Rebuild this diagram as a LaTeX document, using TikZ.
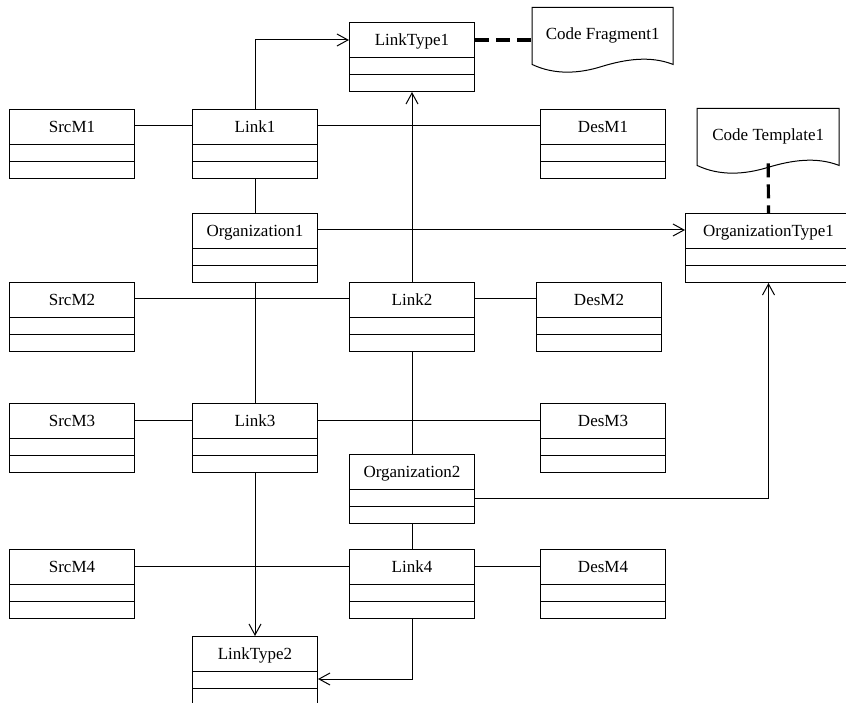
\documentclass[tikz,border=0pt]{standalone}
\usepackage{fontspec}
\setmainfont{Liberation Serif}
\usetikzlibrary{arrows.meta}

\tikzset{
  classbox/.style={draw, line width=1pt, anchor=north west, minimum width=125pt,
    inner ysep=0pt, text height=23pt, text depth=46pt, font=\fontsize{17}{20}\selectfont,
    path picture={
      \draw[line width=1pt] ([yshift=-35pt]path picture bounding box.north west) -- ([yshift=-35pt]path picture bounding box.north east);
      \draw[line width=1pt] ([yshift=-52pt]path picture bounding box.north west) -- ([yshift=-52pt]path picture bounding box.north east);
    }},
  docnote/.style={anchor=north west, minimum width=141pt, minimum height=57pt,
    inner sep=0pt, font=\fontsize{17}{20}\selectfont},
  conn/.style={line width=1pt},
  usearrow/.style={line width=1pt, -{Straight Barb[length=11pt,width=12pt]}},
  notelink/.style={line width=3.2pt, dash pattern=on 14pt off 7pt}
}

\begin{document}
\begin{tikzpicture}[x=1pt,y=-1pt]
    \useasboundingbox (0,0) rectangle (846,703);

    % link classes and organizations
    \node[classbox] (lt1) at (349,22) {LinkType1};
    \node[classbox] (link1) at (192,109) {Link1};
    \node[classbox] (org1) at (192,213) {Organization1};
    \node[classbox] (link2) at (349,282) {Link2};
    \node[classbox] (link3) at (192,403) {Link3};
    \node[classbox] (org2) at (349,454) {Organization2};
    \node[classbox] (link4) at (349,549) {Link4};
    \node[classbox] (lt2) at (192,636) {LinkType2};
    \node[classbox, minimum width=166pt] (otype) at (685,213) {OrganizationType1};

    % source and destination modules
    \foreach \i/\y in {1/109,2/282,3/403,4/549}
    \node[classbox] (src\i) at (9,\y) {SrcM\i};
    \foreach \i/\x/\y in {1/540/109,2/536/282,3/540/403,4/540/549}
    \node[classbox] (des\i) at (\x,\y) {DesM\i};

    % notes
    \node[docnote] (cf) at (532,7) {Code Fragment1};
    \draw[conn, shift={(cf.south west)}] (0,0) .. controls (23,11) and (48,9) .. (70,2)
      .. controls (93,-5) and (118,-9) .. (141,0) -- (141,-57) -- (0,-57) -- cycle;
    \node[docnote, minimum width=142pt] (ct) at (697,108) {Code Template1};
    \draw[conn, shift={(ct.south west)}] (0,0) .. controls (23,11) and (48,9) .. (71,2)
      .. controls (94,-5) and (119,-9) .. (142,0) -- (142,-57) -- (0,-57) -- cycle;

    % associations
    \foreach \a/\b in {src1/link1,link1/des1,src2/link2,link2/des2,src3/link3,link3/des3,src4/link4,link4/des4}
    \draw[conn] ([yshift=-17pt]\a.north east) -- ([yshift=-17pt]\b.north west);
    \draw[conn] (link1.south) -- (org1.north);
    \draw[conn] (org1.south) -- (link3.north);
    \draw[conn] (link2.south) -- (org2.north);
    \draw[conn] (org2.south) -- (link4.north);

    % types
    \draw[usearrow] (link1.north) |- ([yshift=-18pt]lt1.north west);
    \draw[usearrow] (link2.north) -- (lt1.south);
    \draw[usearrow] ([yshift=-17pt]org1.north east) -- ([yshift=-17pt]otype.north west);
    \draw[usearrow] ([yshift=-44pt]org2.north east) -| (otype.south);
    \draw[usearrow] (link3.south) -- (lt2.north);
    \draw[usearrow] (link4.south) |- ([yshift=-43pt]lt2.north east);

    % code notes
    \draw[notelink] ([yshift=-18pt]lt1.north east) -- ([yshift=-18pt]lt1.north east -| cf.west);
    \draw[notelink] ([yshift=2pt]ct.south) -- (otype.north);
\end{tikzpicture}
\end{document}
